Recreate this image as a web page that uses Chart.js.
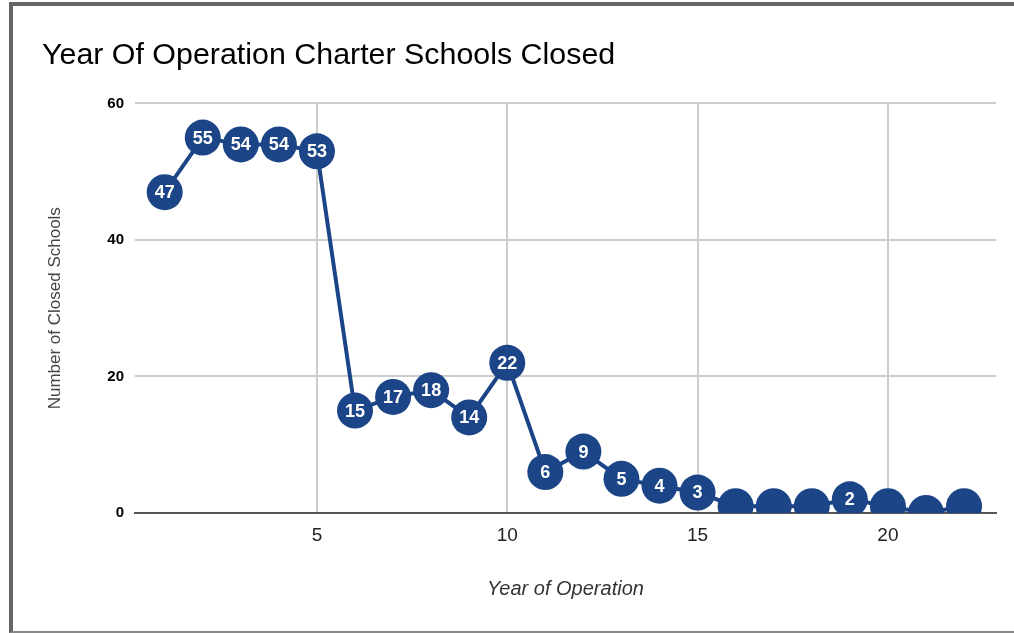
<!DOCTYPE html>
<html>
<head>
<meta charset="utf-8">
<script src="https://cdn.jsdelivr.net/npm/chart.js@4/dist/chart.umd.min.js"></script>
<style>
body{ margin:0; background:#fff; }
#frame{
position:absolute; left:9px; top:2px; width:1005px; height:625px;
border-top:4px solid #666; border-left:4px solid #666; border-bottom:2px solid #888;
}
#chart{ position:absolute; left:0; top:0; }
</style>
</head>
<body>

<div id="frame"></div>
<canvas id="chart" width="1014" height="633"></canvas>

<script>

// CHART DATA

const years = [1,2,3,4,5,6,7,8,9,10,11,12,13,14,15,16,17,18,19,20,21,22];

const closedSchools = [47,55,54,54,53,15,17,18,14,22,6,9,5,4,3,1,1,1,2,1,0,1];

const xTicks = [5,10,15,20];

const yTicks = [0,20,40,60];

const blue = "#1c4587";
const font = "'Liberation Sans', Arial, sans-serif";


// white numbers inside the dots

const pointLabels = {

id:"pointLabels",

afterDatasetsDraw(chart){

const ctx = chart.ctx;
const meta = chart.getDatasetMeta(0);

ctx.save();
ctx.fillStyle = "#fff";
ctx.font = "bold 18px " + font;
ctx.textAlign = "center";
ctx.textBaseline = "middle";

meta.data.forEach((pt,i)=>{
// labels of the tiny values are hidden in the original
if(closedSchools[i] >= 2){
ctx.fillText(String(closedSchools[i]), pt.x, pt.y + 1);
}
});

ctx.restore();

}

};


new Chart(document.getElementById("chart"),{

type:"line",

data:{
datasets:[{
data: years.map((y,i)=>({x:y, y:closedSchools[i]})),
borderColor: blue,
borderWidth: 4,
backgroundColor: blue,
pointBackgroundColor: blue,
pointBorderWidth: 0,
pointRadius: 18,
tension: 0,
clip: {left:30, top:30, right:30, bottom:0}
}]
},

options:{
responsive:false,
animation:false,
layout:{ padding:{left:42, right:17, top:0, bottom:0} },

plugins:{
legend:{ display:false },
tooltip:{ enabled:false },
title:{
display:true,
text:"Year Of Operation Charter Schools Closed",
align:"start",
color:"#000",
font:{ family:font, size:30.4, weight:"normal" },
padding:{ top:37.6, bottom:29.4 }
}
},

scales:{

x:{
type:"linear",
min:0.22,
max:22.84,
afterBuildTicks(axis){ axis.ticks = xTicks.map(v=>({value:v})); },
afterFit(axis){ axis.height = 120; },
grid:{ color:"#ccc", lineWidth:2, drawTicks:false },
border:{ color:"#555", width:2 },
ticks:{ color:"#222", padding:11, maxRotation:0, font:{ family:font, size:19 } },
title:{
display:true,
text:"Year of Operation",
color:"#333",
font:{ family:font, size:20, style:"italic" },
padding:{ top:0, bottom:32 }
}
},

y:{
min:0,
max:60,
afterBuildTicks(axis){ axis.ticks = yTicks.map(v=>({value:v})); },
afterFit(axis){ axis.width = 93; },
grid:{
color:(c)=> c.tick && c.tick.value === 0 ? "rgba(0,0,0,0)" : "#ccc",
lineWidth:2,
drawTicks:false
},
border:{ display:false },
ticks:{ color:"#000", padding:11, font:{ family:font, size:15, weight:"bold" } },
title:{
display:true,
text:"Number of Closed Schools",
color:"#444",
font:{ family:font, size:17 },
padding:{ top:3, bottom:0 }
}
}

}
},

plugins:[pointLabels]

});

</script>
</body>
</html>
